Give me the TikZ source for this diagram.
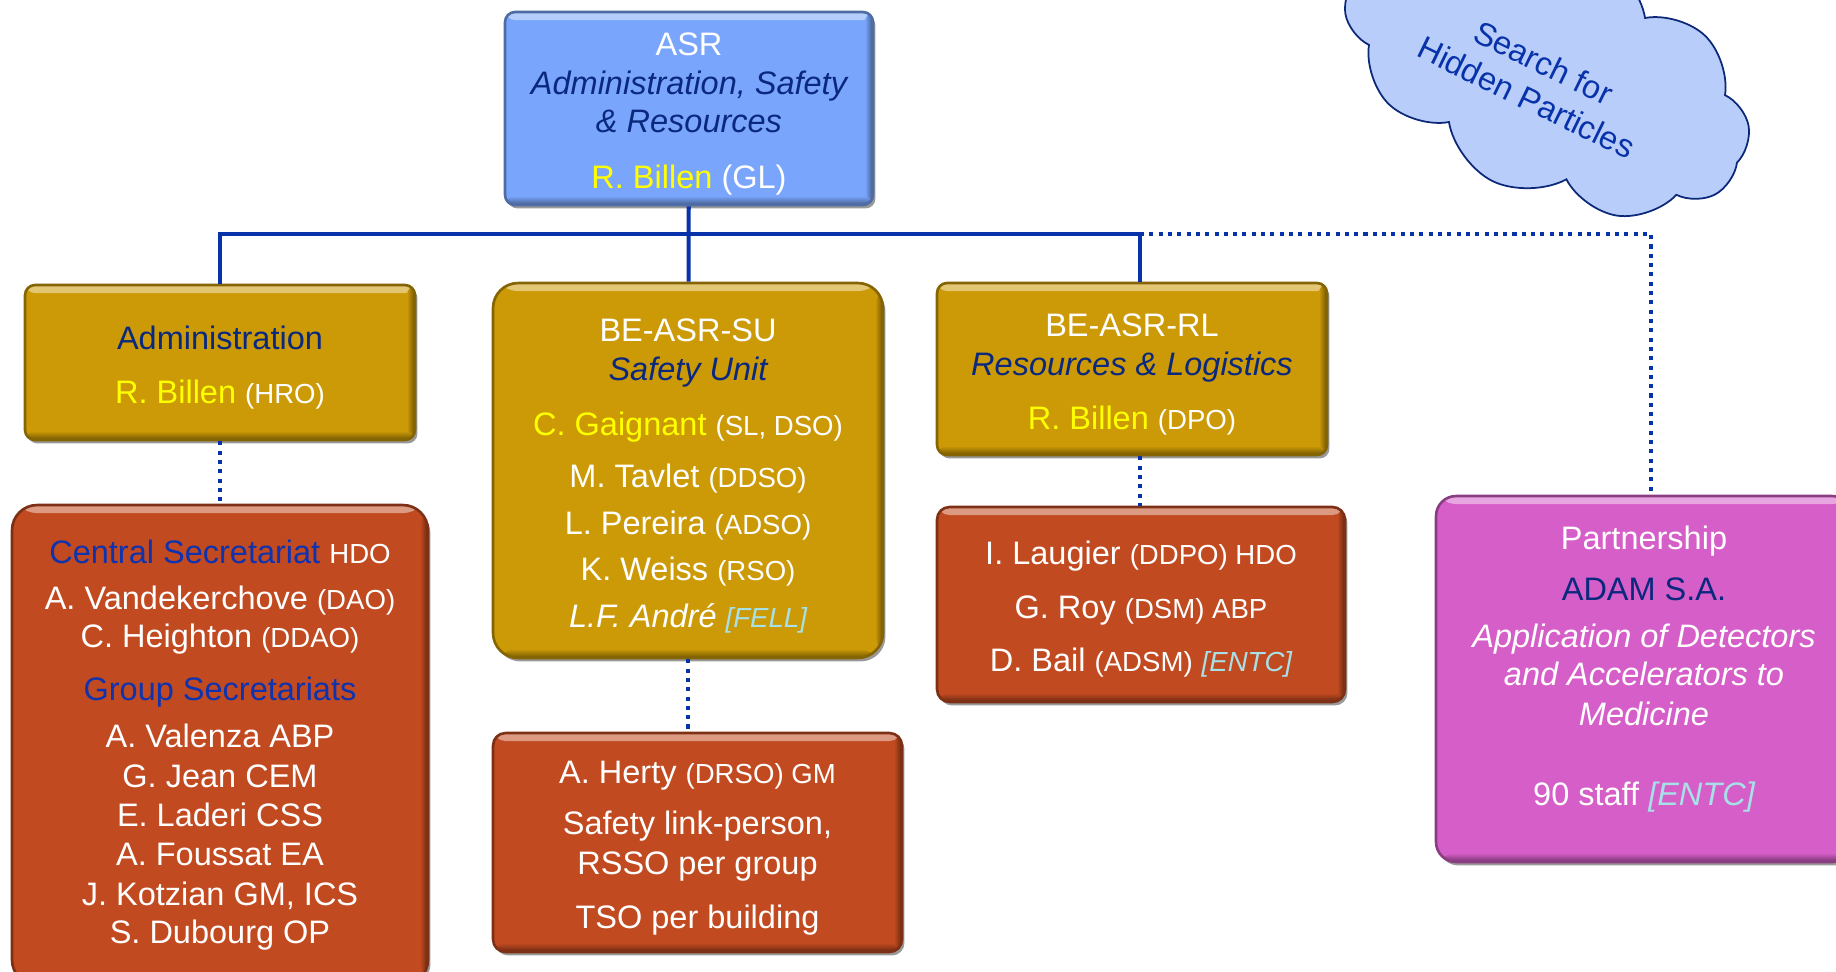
\documentclass[tikz,border=0pt]{standalone}
\usepackage{fontspec}
\setmainfont{Liberation Sans}
\usetikzlibrary{shapes.symbols,shadows,positioning}

\definecolor{asrblue}{RGB}{121,166,252}
\definecolor{unitgold}{RGB}{204,154,6}
\definecolor{staffrust}{RGB}{193,74,32}
\definecolor{partnerpink}{RGB}{214,94,200}
\definecolor{titlenavy}{RGB}{10,40,125}
\definecolor{secblue}{RGB}{15,50,175}
\definecolor{linkblue}{RGB}{8,50,170}
\definecolor{namegold}{RGB}{255,255,0}
\definecolor{contractcyan}{RGB}{168,224,232}
\definecolor{cloudfill}{RGB}{184,205,250}
\definecolor{cloudline}{RGB}{12,40,120}

\newcommand{\role}[1]{{\fontsize{15.7}{22}\selectfont #1}}
\newcommand{\boss}[1]{\textcolor{namegold}{#1}}
\newcommand{\contract}[1]{\textcolor{contractcyan}{\itshape #1}}
\newcommand{\headroom}{\rule{0pt}{19pt}}

\begin{document}
\begin{tikzpicture}[
    x=0.02cm, y=-0.02cm,
    panel/.style={rectangle, fill=#1, draw=#1!65!black, line width=1.5pt, text=white, align=center,
        font=\fontsize{18.5}{22}\selectfont, inner sep=0pt,
        drop shadow={shadow xshift=0.05cm, shadow yshift=-0.07cm, fill=black, opacity=0.4},
        path picture={
            \shade[top color=#1!55!white, bottom color=#1] (path picture bounding box.north west) rectangle ([yshift=-0.16cm]path picture bounding box.north east);
            \shade[left color=#1, right color=#1!55!black] ([xshift=-0.16cm]path picture bounding box.north east) rectangle (path picture bounding box.south east);
            \shade[top color=#1, bottom color=#1!55!black] ([yshift=0.18cm]path picture bounding box.south west) rectangle (path picture bounding box.south east);
        }},
    link/.style={draw=linkblue, line width=2.3pt},
    dotlink/.style={link, dash pattern=on 2.3pt off 3pt}
]
    \useasboundingbox (0,0) rectangle (1836,971);

    % Top
    \node[panel=asrblue, rounded corners=0.2cm, minimum width=7.36cm, minimum height=3.86cm] (asr) at (689,108.5) {\headroom ASR\\
        \textcolor{titlenavy}{\itshape Administration, Safety}\\[0pt]
        \textcolor{titlenavy}{\itshape \& Resources}\\[9.5pt]
        \boss{R. Billen} (GL)};
    \node[cloud, cloud puffs=10, cloud puff arc=110, aspect=1.7, fill=cloudfill, draw=cloudline, line width=1pt,
        minimum width=8.65cm, minimum height=4.95cm, rotate=-26] (hidden) at (1547,70) {};
    \node[rotate=-26, text=linkblue, align=center, font=\fontsize{18.5}{22}\selectfont] (hiddentext) at (1535,80) {Search for\\Hidden Particles};

    % Units
    \node[panel=unitgold, rounded corners=0.2cm, minimum width=7.8cm, minimum height=3.1cm] (admin) at (220,362.5) {\headroom\textcolor{titlenavy}{Administration}\\[8.7pt]
        \boss{R. Billen} \role{(HRO)}};
    \node[panel=unitgold, rounded corners=0.5cm, minimum width=7.8cm, minimum height=7.5cm] (su) at (688,470.5) {\headroom BE-ASR-SU\\
        \textcolor{titlenavy}{\itshape Safety Unit}\\[9.3pt]
        \boss{C. Gaignant} \role{(SL, DSO)}\\[7.6pt]
        M. Tavlet \role{(DDSO)}\\[4.7pt]
        L. Pereira \role{(ADSO)}\\[4.2pt]
        K. Weiss \role{(RSO)}\\[4.7pt]
        \textit{L.F. André} \role{\contract{[FELL]}}};
    \node[panel=unitgold, rounded corners=0.2cm, minimum width=7.8cm, minimum height=3.44cm] (rl) at (1132,369) {\headroom BE-ASR-RL\\
        \textcolor{titlenavy}{\itshape Resources \& Logistics}\\[8.7pt]
        \boss{R. Billen} \role{(DPO)}};

    % Staff
    \node[panel=staffrust, rounded corners=0.5cm, minimum width=8.32cm, minimum height=9.6cm] (adminstaff) at (220,745) {\textcolor{secblue}{Central Secretariat} \role{HDO}\\[4.2pt]
        A. Vandekerchove \role{(DAO)}\\
        C. Heighton \role{(DDAO)}\\[8.2pt]
        \textcolor{secblue}{Group Secretariats}\\[4.7pt]
        A. Valenza ABP\\[0.8pt]
        G. Jean CEM\\
        E. Laderi CSS\\
        A. Foussat EA\\[0.8pt]
        J. Kotzian GM, ICS\\
        S. Dubourg OP};
    \node[panel=staffrust, rounded corners=0.25cm, minimum width=8.18cm, minimum height=4.38cm] (sustaff) at (697.5,842.5) {\headroom A. Herty \role{(DRSO) GM}\\[7pt]
        Safety link-person,\\[0.8pt]
        RSSO per group\\[8.7pt]
        TSO per building};
    \node[panel=staffrust, rounded corners=0.25cm, minimum width=8.16cm, minimum height=3.9cm] (rlstaff) at (1141,604.5) {\headroom I. Laugier \role{(DDPO) HDO}\\[8.7pt]
        G. Roy \role{(DSM) ABP}\\[8.2pt]
        D. Bail \role{(ADSM)} \role{\contract{[ENTC]}}};
    \node[panel=partnerpink, rounded corners=0.4cm, minimum width=8.32cm, minimum height=7.32cm] (partner) at (1644,679) {Partnership\\[7pt]
        \textcolor{titlenavy}{ADAM S.A.}\\[4.7pt]
        \textit{Application of Detectors}\\
        \textit{and Accelerators to}\\[0.8pt]
        \textit{Medicine}\\[23.5pt]
        90 staff \contract{[ENTC]}\rule[-15pt]{0pt}{1pt}};

    % Links
    \coordinate (bus) at (689,234);
    \coordinate (rltap) at (1140,234);
    \draw[link] (asr) -- (su);
    \draw[link] (admin.north) |- (rltap) -- (rltap |- rl.north);
    \draw[dotlink] (rltap) -| ([xshift=0.14cm]partner.north);
    \draw[dotlink] (admin) -- (adminstaff);
    \draw[dotlink] (su.south) -- (su.south |- sustaff.north);
    \draw[dotlink] (rl.south -| rltap) -- (rlstaff.north -| rltap);
\end{tikzpicture}
\end{document}
